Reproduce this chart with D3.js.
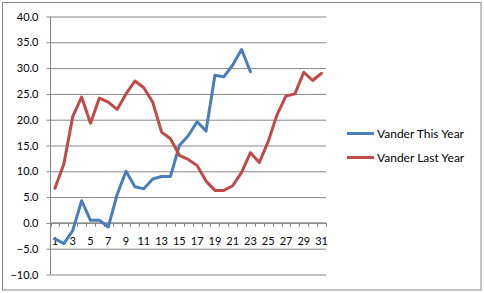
<!DOCTYPE html>
<html><head><meta charset="utf-8">
<script src="https://cdn.jsdelivr.net/npm/d3@7"></script>
<style>body{margin:0;background:#fff}svg{display:block}</style>
</head><body>
<script>
const days = d3.range(1, 32);
const thisYear = [-3.1,-4.0,-1.5,4.3,0.5,0.5,-0.8,5.5,10.0,7.0,6.6,8.5,9.0,9.0,15.0,16.9,19.6,17.8,28.6,28.3,30.6,33.6,29.3];
const lastYear = [6.7,11.4,20.6,24.4,19.3,24.2,23.4,22.0,25.0,27.5,26.2,23.4,17.6,16.3,13.1,12.3,11.1,8.1,6.3,6.3,7.2,9.8,13.6,11.7,15.8,21.0,24.6,25.0,29.2,27.6,29.0];
const yTicks = [-10,-5,0,5,10,15,20,25,30,35,40];
const seriesNames = ["Vander This Year","Vander Last Year"];
const colors = ["#4A7EBB","#BE4B48"];

const W=484,H=293;
const svg=d3.select("body").append("svg").attr("width",W).attr("height",H);
svg.append("rect").attr("x",2.5).attr("y",2.5).attr("width",478.5).attr("height",287.5)
  .attr("fill","#fff").attr("stroke","#868686");

const x=d3.scaleBand().domain(days).range([50.5,326]);
const y=d3.scaleLinear().domain([-10,40]).range([274.5,16.5]);
const font="Lato, 'Open Sans', sans-serif";

// gridlines + y axis
const yAxis=d3.axisLeft(y).tickValues(yTicks).tickSize(4).tickPadding(8).tickFormat(d3.format(".1f"));
const gy=svg.append("g").attr("transform","translate(50.5,0)").call(yAxis);
gy.select(".domain").attr("stroke","#868686").attr("d","M0,16.5V274.5");
gy.selectAll(".tick line").attr("stroke","#868686");
gy.selectAll(".tick").append("line").attr("x1",0).attr("x2",326-50.5).attr("stroke","#868686");
gy.selectAll("text").attr("font-family",font).attr("font-size",11).attr("fill","#000");

// x axis at zero
const xb=d3.scaleLinear().domain([0,31]).range([50.5,326]);
const gx=svg.append("g").attr("transform",`translate(0,${y(0)})`);
gx.append("line").attr("x1",50.5).attr("x2",326).attr("stroke","#868686");
gx.selectAll("line.tk").data(d3.range(0,32)).join("line").attr("class","tk")
  .attr("x1",d=>Math.round(xb(d))+0.5).attr("x2",d=>Math.round(xb(d))+0.5).attr("y1",0).attr("y2",4).attr("stroke","#868686");
gx.selectAll("text").data(days.filter(d=>d%2===1)).join("text")
  .attr("x",d=>x(d)+x.bandwidth()/2).attr("y",22).attr("text-anchor","middle")
  .attr("font-family",font).attr("font-size",11).attr("fill","#000").text(d=>d);

const line=d3.line().x((d,i)=>x(days[i])+x.bandwidth()/2).y(d=>y(d));
[thisYear,lastYear].forEach((s,i)=>{
  svg.append("path").attr("d",line(s)).attr("fill","none").attr("stroke",colors[i])
    .attr("stroke-width",3).attr("stroke-linejoin","round").attr("stroke-linecap","round");
});

// legend
const lg=svg.append("g");
seriesNames.forEach((n,i)=>{
  const ly=133.5+i*24;
  lg.append("line").attr("x1",347).attr("x2",374).attr("y1",ly).attr("y2",ly).attr("stroke",colors[i]).attr("stroke-width",3);
  lg.append("text").attr("x",377).attr("y",ly+4).attr("font-family",font).attr("font-size",12).attr("fill","#000").text(n);
});
</script>
</body></html>
